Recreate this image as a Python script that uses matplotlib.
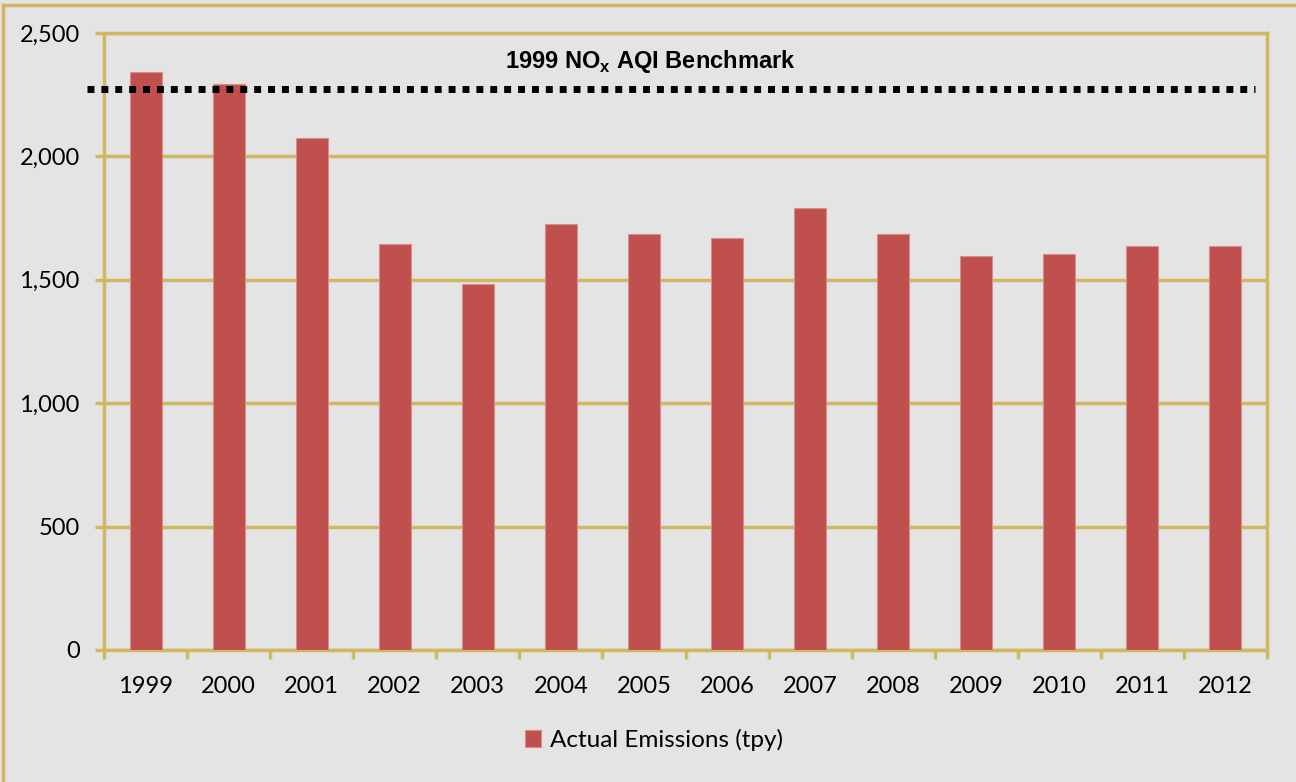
import matplotlib
matplotlib.use("Agg")
import matplotlib.pyplot as plt
from matplotlib.lines import Line2D
from matplotlib.ticker import FuncFormatter, FixedLocator

years = ["1999", "2000", "2001", "2002", "2003", "2004", "2005",
         "2006", "2007", "2008", "2009", "2010", "2011", "2012"]
emissions = [2341, 2293, 2073, 1645, 1483, 1726, 1686,
             1669, 1790, 1686, 1596, 1606, 1637, 1637]
benchmark = 2272
y_ticks = [0, 500, 1000, 1500, 2000, 2500]

gold = "#D0B862"
bg = "#E4E4E4"
bar_farbe = "#C0504D"

plt.rcParams["font.family"] = ["Lato", "DejaVu Sans"]

fig = plt.figure(figsize=(12.96, 7.82), dpi=100, facecolor=bg)
ax = fig.add_axes([104 / 1296, 1 - 650 / 782, 1163 / 1296, 617 / 782])
ax.set_facecolor(bg)

x = list(range(len(years)))
ax.bar(x, emissions, width=0.385, color=bar_farbe, edgecolor="#D68E8C",
       linewidth=0.8, zorder=3, label="Actual Emissions (tpy)")

# Benchmark-Linie, ragt links etwas ueber die Achse hinaus
ax.plot([-0.705, 13.36], [benchmark, benchmark], color="black", lw=5,
        linestyle=(0, (1, 1)), solid_capstyle="butt", dash_capstyle="butt",
        zorder=4, clip_on=False)
ax.text(0.4695, 0.953, "1999 NO$_\\mathregular{x}$ AQI Benchmark",
        transform=ax.transAxes, ha="center", va="center",
        family="Liberation Sans", fontweight="bold", fontsize=17, zorder=5)

ax.set_xlim(-0.5, len(years) - 0.5)
ax.set_ylim(0, 2500)
ax.set_yticks(y_ticks)
ax.yaxis.set_major_formatter(FuncFormatter(lambda v, p: "{:,.0f}".format(v)))
ax.set_xticks(x)
ax.set_xticklabels(years)
ax.xaxis.set_minor_locator(FixedLocator([i - 0.5 for i in range(len(years) + 1)]))

ax.grid(axis="y", color=gold, lw=2.5, zorder=1)
for s in ax.spines.values():
    s.set_color(gold)
    s.set_linewidth(2.5)

ax.tick_params(axis="y", length=6.5, width=2.5, color=gold, pad=11,
               labelsize=17, labelcolor="black")
ax.tick_params(axis="x", which="major", length=0, pad=19, labelsize=17,
               labelcolor="black")
ax.tick_params(axis="x", which="minor", length=6.5, width=2.5, color=gold)

fig.legend(loc="center", bbox_to_anchor=(654 / 1296, 1 - 740 / 782),
           frameon=False, fontsize=17.5, handlelength=0.65, handleheight=0.65,
           handletextpad=0.35)

# Rahmen um das ganze Diagramm
fig.add_artist(Line2D([3 / 1296, 3 / 1296], [0, 1 - 5 / 782],
                      transform=fig.transFigure, color=gold, lw=2.5))
fig.add_artist(Line2D([3 / 1296, 1], [1 - 5 / 782, 1 - 5 / 782],
                      transform=fig.transFigure, color=gold, lw=2.5))

fig.savefig("out.png", dpi=100, facecolor=bg)
